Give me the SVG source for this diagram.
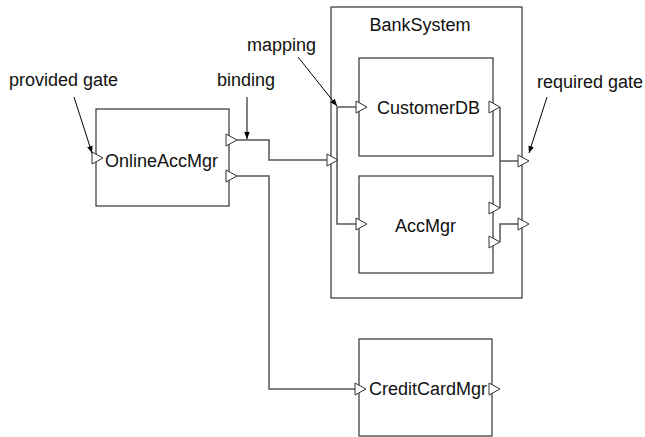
<svg xmlns="http://www.w3.org/2000/svg" width="645" height="437" viewBox="0 0 645 437">
<defs>
<marker id="ah" viewBox="0 0 10 10" refX="10" refY="5" markerWidth="7" markerHeight="7" orient="auto" markerUnits="userSpaceOnUse">
<path d="M0,1 L10,5 L0,9 z" fill="#000"/>
</marker>
<path id="gate" d="M0,-6 L11,0 L0,6 z" fill="#fff" stroke="#333" stroke-width="1"/>
</defs>
<style>
.box{fill:#fff;stroke:#333;stroke-width:1.2}
.lbl{font-family:"Liberation Sans",Arial,sans-serif;font-size:18px;fill:#111}
.conn{fill:none;stroke:#555;stroke-width:1.5}
.ann{fill:none;stroke:#000;stroke-width:1}
</style>
<rect width="645" height="437" fill="#fff"/>
<g id="BankSystem">
<rect class="box" x="331" y="7" width="191" height="291"/>
<text class="lbl" x="420" y="31" text-anchor="middle">BankSystem</text>
</g>
<g id="OnlineAccMgr">
<rect class="box" x="96" y="109" width="133" height="97"/>
<text class="lbl" x="105" y="167">OnlineAccMgr</text>
</g>
<g id="CustomerDB">
<rect class="box" x="359" y="58" width="134" height="98"/>
<text class="lbl" x="377" y="114">CustomerDB</text>
</g>
<g id="AccMgr">
<rect class="box" x="359" y="176" width="134" height="97"/>
<text class="lbl" x="395" y="232">AccMgr</text>
</g>
<g id="CreditCardMgr">
<rect class="box" x="359" y="339" width="133" height="97"/>
<text class="lbl" x="369" y="395">CreditCardMgr</text>
</g>
<g id="connectors">
<polyline class="conn" points="237,140 269,140 269,160 327,160"/>
<polyline class="conn" points="237,176 269,176 269,389 355,389"/>
<polyline class="conn" points="356,107 337,107 337,224 356,224"/>
<polyline class="conn" points="500,107 500,208"/>
<polyline class="conn" points="500,161 518,161"/>
<polyline class="conn" points="500,242 500,224 518,224"/>
</g>
<g id="gates">
<use href="#gate" x="92" y="158"/>
<use href="#gate" x="226" y="140"/>
<use href="#gate" x="226" y="176"/>
<use href="#gate" x="327" y="160"/>
<use href="#gate" x="356" y="107"/>
<use href="#gate" x="356" y="224"/>
<use href="#gate" x="489" y="107"/>
<use href="#gate" x="489" y="208"/>
<use href="#gate" x="489" y="242"/>
<use href="#gate" x="518" y="161"/>
<use href="#gate" x="518" y="224"/>
<use href="#gate" x="355" y="389"/>
<use href="#gate" x="489" y="389"/>
</g>
<g id="annotations">
<text class="lbl" x="9" y="86">provided gate</text>
<line class="ann" x1="74" y1="97" x2="92" y2="153" marker-end="url(#ah)"/>
<text class="lbl" x="217" y="86">binding</text>
<line class="ann" x1="247" y1="97" x2="247" y2="139" marker-end="url(#ah)"/>
<text class="lbl" x="247" y="51">mapping</text>
<line class="ann" x1="298" y1="57" x2="337" y2="106" marker-end="url(#ah)"/>
<text class="lbl" x="537" y="88">required gate</text>
<line class="ann" x1="547" y1="97" x2="529" y2="153" marker-end="url(#ah)"/>
</g>
</svg>
